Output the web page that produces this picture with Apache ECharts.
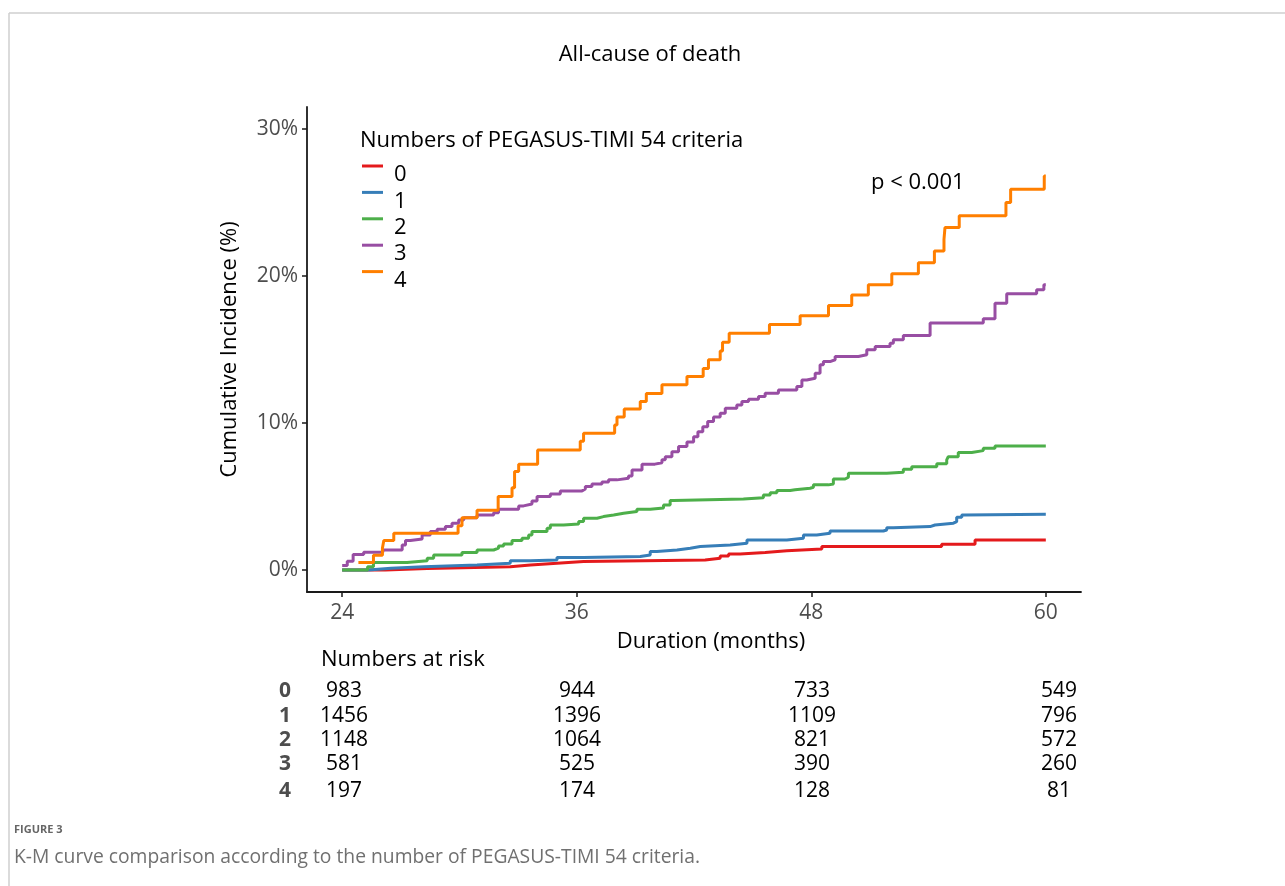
<!DOCTYPE html>
<html>
<head>
<meta charset="utf-8">
<title>All-cause of death</title>
<script src="https://cdn.jsdelivr.net/npm/echarts@6/dist/echarts.min.js"></script>
<style>
  html, body { margin: 0; padding: 0; background: #ffffff; }
  #chart { width: 1285px; height: 886px; }
</style>
</head>
<body>
<div id="chart"></div>
<script>
// ---- Data -----------------------------------------------------------------
const groupNames = ['0', '1', '2', '3', '4'];
const groupColors = ['#E41A1C', '#377EB8', '#4DAF4A', '#984EA3', '#FF7F00'];

// Cumulative incidence (%) steps: month of event, value from that month on
const months0 = [24, 26.21, 28.35, 32.6, 33.63, 34.99, 36.35, 42.57, 43.34, 43.77, 44.36, 45.64, 46.75, 48.54, 54.67, 56.38, 60];
const inc0    = [0, 0.1, 0.22, 0.34, 0.45, 0.57, 0.68, 0.8, 0.95, 1.09, 1.18, 1.31, 1.43, 1.59, 1.75, 2.04, 2.04];

const months1 = [24, 25.34, 26.5, 28.17, 30.9, 32.6, 33.63, 34.99, 36.35, 39.25, 39.76, 40.1, 41.13, 41.81, 42.32, 43.85, 44.71, 46.75, 47.6, 48.28, 48.96, 51.69, 51.86, 52.2, 54.08, 54.33, 55.27, 55.44, 55.7, 55.86, 60];
const inc1    = [0, 0.12, 0.22, 0.34, 0.46, 0.63, 0.68, 0.84, 0.91, 1.02, 1.25, 1.36, 1.48, 1.59, 1.7, 1.82, 2.04, 2.16, 2.38, 2.5, 2.65, 2.72, 2.88, 2.95, 3.06, 3.18, 3.29, 3.59, 3.74, 3.79, 3.79];

const months2 = [24, 25.3, 25.6, 27.32, 28.35, 28.68, 30.13, 30.9, 31.75, 32.0, 32.26, 32.69, 33.2, 33.54, 33.71, 34.48, 34.65, 35.33, 36.1, 36.35, 37.04, 37.37, 37.89, 38.4, 39.08, 39.76, 40.44, 40.78, 40.95, 44.53, 45.55, 45.9, 46.24, 46.92, 47.17, 47.94, 48.11, 48.88, 49.13, 49.73, 49.9, 51.86, 52.71, 53.14, 54.42, 54.93, 55.01, 55.52, 56.21, 56.8, 57.4, 60];
const inc2    = [0, 0.22, 0.5, 0.63, 0.8, 1.02, 1.18, 1.36, 1.48, 1.63, 1.77, 2.0, 2.16, 2.38, 2.61, 2.84, 3.06, 3.13, 3.29, 3.52, 3.63, 3.74, 3.86, 3.97, 4.13, 4.22, 4.42, 4.72, 4.83, 4.92, 5.1, 5.25, 5.4, 5.45, 5.56, 5.63, 5.79, 5.85, 6.19, 6.31, 6.58, 6.65, 6.85, 7.03, 7.22, 7.49, 7.71, 7.99, 8.12, 8.28, 8.44, 8.44];

const months3 = [24, 24.26, 24.56, 25.1, 26.08, 27.07, 27.24, 27.49, 28.09, 28.51, 28.86, 29.28, 29.62, 29.96, 30.22, 30.9, 31.75, 32.0, 33.03, 33.28, 33.71, 33.97, 34.65, 35.16, 36.27, 36.44, 36.78, 37.29, 37.63, 38.06, 38.65, 38.83, 39.34, 40.0, 40.36, 40.53, 40.87, 41.21, 41.64, 41.98, 42.2, 42.45, 42.7, 43.0, 43.34, 43.6, 44.19, 44.45, 44.79, 45.3, 45.64, 46.32, 47.26, 47.52, 47.77, 48.2, 48.45, 48.62, 48.96, 49.22, 50.41, 50.84, 51.27, 52.03, 52.2, 52.71, 54.08, 56.8, 57.4, 58.0, 59.53, 59.9, 60];
const inc3    = [0.3, 0.6, 1.05, 1.2, 1.36, 1.7, 2.0, 2.11, 2.38, 2.61, 2.77, 2.95, 3.18, 3.4, 3.56, 3.74, 3.9, 4.13, 4.36, 4.49, 4.7, 4.99, 5.17, 5.38, 5.51, 5.67, 5.85, 5.99, 6.13, 6.24, 6.4, 6.8, 7.2, 7.3, 7.49, 7.7, 8.05, 8.4, 8.7, 9.07, 9.4, 9.75, 10.1, 10.4, 10.67, 11.0, 11.23, 11.46, 11.62, 11.8, 12.03, 12.25, 12.48, 12.93, 13.05, 13.39, 13.96, 14.18, 14.3, 14.52, 14.64, 14.98, 15.2, 15.43, 15.66, 15.95, 16.8, 17.1, 18.15, 18.8, 19.06, 19.4, 19.4];

const months4 = [24.83, 25.6, 26.06, 26.13, 26.64, 29.93, 30.13, 30.9, 31.98, 32.69, 32.82, 33.03, 34.0, 36.18, 36.35, 37.94, 38.06, 38.43, 39.25, 39.56, 40.36, 41.64, 42.47, 42.74, 43.34, 43.46, 43.8, 45.86, 47.43, 48.88, 50.07, 50.92, 52.12, 53.48, 54.3, 54.79, 54.84, 55.57, 57.96, 58.2, 59.92, 60];
const inc4    = [0.5, 1.0, 1.5, 2.0, 2.5, 3.0, 3.56, 4.06, 5.0, 5.6, 6.7, 7.2, 8.17, 8.75, 9.3, 9.87, 10.4, 10.96, 11.46, 12.0, 12.6, 13.16, 13.7, 14.3, 14.9, 15.5, 16.1, 16.7, 17.3, 18.0, 18.7, 19.4, 20.15, 20.9, 21.7, 22.5, 23.3, 24.1, 25.0, 25.9, 26.8, 26.8];

const xTicks = [24, 36, 48, 60];
const yTicks = [0, 10, 20, 30];

// Numbers at risk at 24, 36, 48 and 60 months
const riskMonths = [24, 36, 48, 60];
const risk0 = [983, 944, 733, 549];
const risk1 = [1456, 1396, 1109, 796];
const risk2 = [1148, 1064, 821, 572];
const risk3 = [581, 525, 390, 260];
const risk4 = [197, 174, 128, 81];

// ---- Build ----------------------------------------------------------------
const FONT = "'Open Sans', 'Noto Sans', sans-serif";
const monthsByGroup = [months0, months1, months2, months3, months4];
const incByGroup = [inc0, inc1, inc2, inc3, inc4];
const riskByGroup = [risk0, risk1, risk2, risk3, risk4];

const series = groupNames.map((name, i) => ({
  name: name,
  type: 'line',
  step: 'end',
  showSymbol: false,
  symbol: 'none',
  color: groupColors[i],
  lineStyle: { width: 3, color: groupColors[i] },
  data: monthsByGroup[i].map((m, k) => [m, incByGroup[i][k]]),
  z: 2 + i
}));

// Risk table layout (column centres and row centres, px)
const riskColX = [344, 577, 812, 1059];
const riskRowY = [691, 716, 740, 764, 791];

const graphics = [];
// Page frame
graphics.push({ type: 'line', shape: { x1: 9, y1: 13, x2: 1285, y2: 13 }, style: { stroke: '#cfcfcf', lineWidth: 1.5 } });
graphics.push({ type: 'line', shape: { x1: 9, y1: 13, x2: 9, y2: 886 }, style: { stroke: '#cfcfcf', lineWidth: 1.5 } });

function txt(x, y, text, opts) {
  return {
    type: 'text', x: x, y: y, silent: true,
    style: Object.assign({
      text: text, fontFamily: FONT, fontSize: 22, fill: '#000',
      textAlign: 'left', textVerticalAlign: 'middle'
    }, opts || {})
  };
}

graphics.push(txt(650, 55, 'All-cause of death', { textAlign: 'center' }));
graphics.push(txt(360, 141, 'Numbers of PEGASUS-TIMI 54 criteria'));
graphics.push(txt(871, 183, 'p < 0.001'));
graphics.push(txt(711, 642, 'Duration (months)', { textAlign: 'center' }));
graphics.push(txt(321, 660, 'Numbers at risk'));

riskByGroup.forEach((row, r) => {
  graphics.push(txt(285, riskRowY[r], groupNames[r], { textAlign: 'center', fontWeight: 'bold', fill: '#4d4d4d', fontSize: 21 }));
  row.forEach((n, c) => {
    graphics.push(txt(riskColX[c], riskRowY[r], String(n), { textAlign: 'center', fontSize: 21 }));
  });
});

graphics.push(txt(14, 830, 'FIGURE 3', { fontSize: 11, fontWeight: 'bold', fill: '#666' }));
graphics.push(txt(14, 858, 'K-M curve comparison according to the number of PEGASUS-TIMI 54 criteria.', { fontSize: 19.3, fill: '#707070' }));

const chart = echarts.init(document.getElementById('chart'), null, { renderer: 'canvas' });
chart.setOption({
  animation: false,
  backgroundColor: '#ffffff',
  textStyle: { fontFamily: FONT },
  grid: { left: 307, top: 107, width: 774, height: 485, containLabel: false },
  xAxis: {
    type: 'value',
    min: 22.2,
    max: 61.8,
    axisLine: { show: true, onZero: false, lineStyle: { color: '#1a1a1a', width: 1.8 } },
    axisTick: { show: true, length: 5, customValues: xTicks, lineStyle: { color: '#1a1a1a', width: 1.5 } },
    axisLabel: { customValues: xTicks, margin: 11, fontSize: 21, color: '#4d4d4d', fontFamily: FONT },
    splitLine: { show: false }
  },
  yAxis: {
    type: 'value',
    min: -1.5,
    max: 31.5,
    name: 'Cumulative Incidence (%)',
    nameLocation: 'middle',
    nameGap: 66,
    nameRotate: 90,
    nameTextStyle: { fontSize: 22, color: '#000', fontFamily: FONT },
    axisLine: { show: true, onZero: false, lineStyle: { color: '#1a1a1a', width: 1.8 } },
    axisTick: { show: true, length: 5, customValues: yTicks, lineStyle: { color: '#1a1a1a', width: 1.5 } },
    axisLabel: { customValues: yTicks, margin: 9, fontSize: 21, color: '#4d4d4d', fontFamily: FONT, formatter: '{value}%' },
    splitLine: { show: false }
  },
  legend: {
    data: groupNames,
    orient: 'vertical',
    left: 362,
    top: 146,
    padding: 0,
    itemGap: -13.6,
    itemWidth: 21,
    itemHeight: 3,
    icon: 'rect',
    selectedMode: false,
    formatter: name => '{lab|' + name + '}',
    textStyle: {
      fontSize: 22, color: '#000', fontFamily: FONT,
      rich: { lab: { fontSize: 22, color: '#000', fontFamily: FONT, lineHeight: 8, padding: [18, 0, 0, 6] } }
    }
  },
  series: series,
  graphic: graphics
});
</script>
</body>
</html>
